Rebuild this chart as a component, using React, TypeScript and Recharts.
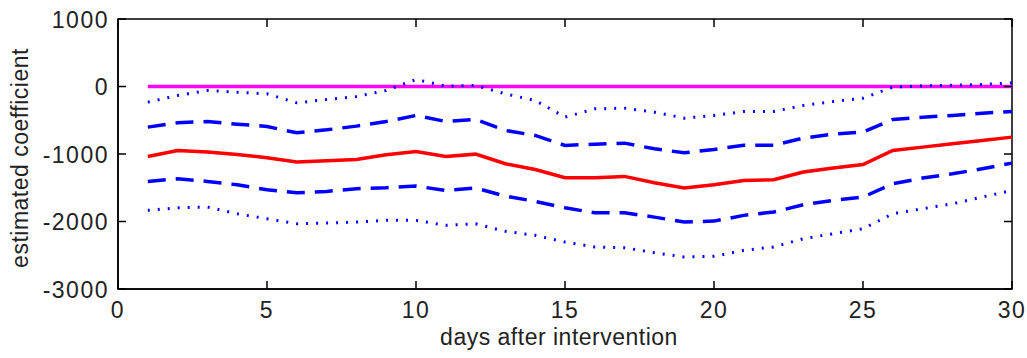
import React from 'react';
import { LineChart, Line, XAxis, YAxis, ReferenceArea } from 'recharts';

// days after the intervention
const days = [
  1, 2, 3, 4, 5, 6, 7, 8, 9, 10, 11, 12, 13, 14, 15,
  16, 17, 18, 19, 20, 21, 22, 23, 24, 25, 26, 27, 28, 29, 30
];

// point estimate
const estimate = [
  -1036, -947, -972, -1006, -1056, -1120, -1100, -1080, -1012, -962,
  -1036, -1002, -1145, -1229, -1352, -1352, -1332, -1426, -1505, -1456,
  -1392, -1382, -1268, -1209, -1155, -947, -898, -849, -800, -750
];

// one standard error band
const upper1 = [
  -602, -538, -518, -558, -592, -686, -642, -587, -518, -429,
  -518, -488, -651, -725, -873, -854, -839, -923, -982, -932,
  -869, -869, -765, -706, -676, -488, -454, -429, -395, -370
];
const lower1 = [
  -1406, -1367, -1406, -1456, -1530, -1574, -1554, -1515, -1500, -1475,
  -1540, -1505, -1624, -1702, -1797, -1871, -1871, -1935, -2008, -1994,
  -1909, -1860, -1752, -1688, -1638, -1441, -1357, -1293, -1219, -1135
];

// two standard error band
const upper2 = [
  -232, -133, -59, -84, -109, -242, -193, -148, -59, 104,
  4, 15, -109, -207, -454, -331, -321, -380, -469, -429,
  -370, -370, -281, -222, -173, -10, 10, 20, 30, 53
];
const lower2 = [
  -1835, -1797, -1786, -1885, -1960, -2033, -2023, -2008, -1983, -1983,
  -2057, -2033, -2146, -2205, -2304, -2378, -2388, -2463, -2526, -2516,
  -2427, -2378, -2255, -2181, -2107, -1885, -1811, -1737, -1638, -1539
];

// zero reference
const zero = [
  0, 0, 0, 0, 0, 0, 0, 0, 0, 0, 0, 0, 0, 0, 0,
  0, 0, 0, 0, 0, 0, 0, 0, 0, 0, 0, 0, 0, 0, 0
];

const xTicks = [0, 5, 10, 15, 20, 25, 30];
const yTicks = [-3000, -2000, -1000, 0, 1000];

const rows = days.map((day, i) => ({
  day,
  zero: zero[i],
  upper2: upper2[i],
  upper1: upper1[i],
  estimate: estimate[i],
  lower1: lower1[i],
  lower2: lower2[i]
}));

const WIDTH = 1027;
const HEIGHT = 358;
const MARGIN = { top: 19, right: 15, left: 0, bottom: 0 };
const Y_AXIS_W = 118;
const X_AXIS_H = 69;
const PLOT_W = WIDTH - Y_AXIS_W - MARGIN.right;
const PLOT_H = HEIGHT - MARGIN.top - X_AXIS_H;

const FONT = '"Liberation Sans", Arial, sans-serif';
const TICK_LEN = 8;
const AXIS_COLOR = '#000';
const TEXT_COLOR = '#222';

const textStyle = {
  fontFamily: FONT,
  fontSize: 23,
  letterSpacing: 0.5,
  fill: TEXT_COLOR
};

const tickTextStyle = { ...textStyle, letterSpacing: 1.5 };

// inward tick marks on both opposite sides, labels outside the box
const BottomTick = ({ x, y, payload }: any) => (
  <g>
    <line x1={x} y1={y} x2={x} y2={y - TICK_LEN} stroke={AXIS_COLOR} strokeWidth={1.5} />
    <line x1={x} y1={y - PLOT_H} x2={x} y2={y - PLOT_H + TICK_LEN} stroke={AXIS_COLOR} strokeWidth={1.5} />
    <text x={x} y={y + 29} textAnchor="middle" style={tickTextStyle}>
      {payload.value}
    </text>
  </g>
);

const LeftTick = ({ x, y, payload }: any) => (
  <g>
    <line x1={x} y1={y} x2={x + TICK_LEN} y2={y} stroke={AXIS_COLOR} strokeWidth={1.5} />
    <line x1={x + PLOT_W} y1={y} x2={x + PLOT_W - TICK_LEN} y2={y} stroke={AXIS_COLOR} strokeWidth={1.5} />
    <text x={x - 9} y={y + 8.5} textAnchor="end" style={tickTextStyle}>
      {payload.value}
    </text>
  </g>
);

const XTitle = ({ viewBox }: any) => (
  <text
    x={viewBox.x + viewBox.width / 2 - 6}
    y={viewBox.y + 56}
    textAnchor="middle"
    style={textStyle}
  >
    days after intervention
  </text>
);

const YTitle = () => (
  <text
    x={28}
    y={158}
    textAnchor="middle"
    transform="rotate(-90, 28, 158)"
    style={textStyle}
  >
    estimated coefficient
  </text>
);

const axisLine = { stroke: AXIS_COLOR, strokeWidth: 1.5 };

export default function App() {
  return (
    <div style={{ position: 'absolute', left: 0, top: 0, width: WIDTH, height: HEIGHT, background: '#fff' }}>
      <LineChart width={WIDTH} height={HEIGHT} data={rows} margin={MARGIN}>
        <XAxis
          dataKey="day"
          type="number"
          domain={[0, 30]}
          ticks={xTicks}
          interval={0}
          height={X_AXIS_H}
          tickSize={0}
          tickMargin={0}
          tickLine={false}
          axisLine={axisLine}
          tick={<BottomTick />}
          label={<XTitle />}
        />
        <YAxis
          type="number"
          domain={[-3000, 1000]}
          ticks={yTicks}
          interval={0}
          width={Y_AXIS_W}
          tickSize={0}
          tickMargin={0}
          tickLine={false}
          axisLine={axisLine}
          tick={<LeftTick />}
          label={<YTitle />}
        />
        {/* box around the plot area */}
        <ReferenceArea
          x1={0}
          x2={30}
          y1={-3000}
          y2={1000}
          fill="none"
          fillOpacity={0}
          stroke={AXIS_COLOR}
          strokeWidth={1.5}
        />
        <Line dataKey="zero" stroke="#ff00ff" strokeWidth={3.5} dot={false} isAnimationActive={false} />
        <Line dataKey="upper2" stroke="#0000ff" strokeWidth={3} strokeDasharray="2 8" dot={false} isAnimationActive={false} />
        <Line dataKey="lower2" stroke="#0000ff" strokeWidth={3} strokeDasharray="2 8" dot={false} isAnimationActive={false} />
        <Line dataKey="upper1" stroke="#0000ff" strokeWidth={3.5} strokeDasharray="18 10" dot={false} isAnimationActive={false} />
        <Line dataKey="lower1" stroke="#0000ff" strokeWidth={3.5} strokeDasharray="18 10" dot={false} isAnimationActive={false} />
        <Line dataKey="estimate" stroke="#ff0000" strokeWidth={3.5} dot={false} isAnimationActive={false} />
      </LineChart>
    </div>
  );
}
